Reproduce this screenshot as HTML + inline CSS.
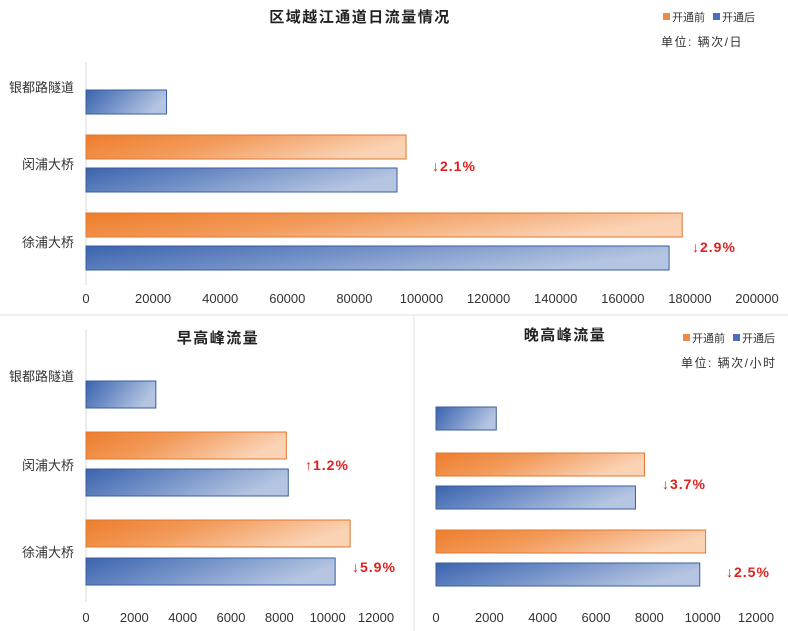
<!DOCTYPE html>
<html><head><meta charset="utf-8">
<style>
body{margin:0;background:#fff;}
svg{display:block;font-family:"Liberation Sans","Noto Sans CJK SC",sans-serif;}
</style></head>
<body>
<svg id="c" width="788" height="631" viewBox="0 0 788 631" xmlns="http://www.w3.org/2000/svg">
<defs>
<linearGradient id="go" x1="0" y1="0" x2="1" y2="0.3"><stop offset="0" stop-color="#ee7d2b"/><stop offset="0.45" stop-color="#f29a5a"/><stop offset="1" stop-color="#fad2b4"/></linearGradient>
<linearGradient id="gb" x1="0" y1="0" x2="1" y2="0.3"><stop offset="0" stop-color="#3b63ad"/><stop offset="0.45" stop-color="#6f8ec6"/><stop offset="1" stop-color="#b5c5e1"/></linearGradient>
</defs>
<line x1="0" y1="315" x2="788" y2="315" stroke="#e2e2e2"/>
<line x1="414" y1="315" x2="414" y2="631" stroke="#e2e2e2"/>
</svg>
<script>
const categories=["银都路隧道","闵浦大桥","徐浦大桥"];
const dailyBefore=[null,95400,177700];
const dailyAfter=[24000,92700,173800];
const dailyTicks=[0,20000,40000,60000,80000,100000,120000,140000,160000,180000,200000];
const dailyChange=[null,"↓2.1%","↓2.9%"];
const amBefore=[null,8290,10930];
const amAfter=[2890,8370,10310];
const amTicks=[0,2000,4000,6000,8000,10000,12000];
const amChange=[null,"↑1.2%","↓5.9%"];
const pmBefore=[null,7820,10110];
const pmAfter=[2260,7480,9890];
const pmTicks=[0,2000,4000,6000,8000,10000,12000];
const pmChange=[null,"↓3.7%","↓2.5%"];

const svg=document.getElementById('c');
const NS="http://www.w3.org/2000/svg";
function mk(tag,attrs,text){const e=document.createElementNS(NS,tag);for(const k in attrs)e.setAttribute(k,attrs[k]);if(text!==undefined)e.textContent=text;svg.appendChild(e);return e;}

function chart(cfg){
  const x=v=>cfg.x0+(v/cfg.max)*(cfg.x1-cfg.x0);
  if(cfg.axisLine){const l=mk('line',{x1:cfg.x0,y1:cfg.axTop,x2:cfg.x0,y2:cfg.axBot,stroke:'#d9d9d9'});
    
    }
  const t=mk('text',{x:cfg.titleX,y:cfg.titleY,'text-anchor':'middle','font-size':15,'font-weight':'bold',fill:'#222','letter-spacing':1.5},cfg.title);
  
  
  cfg.ticks.forEach(v=>{const e=mk('text',{x:x(v),y:cfg.tickY,'text-anchor':'middle','font-size':13,fill:'#333'},String(v));
    
    });
  categories.forEach((c,i)=>{
    if(cfg.showCats){const e=mk('text',{x:cfg.catX,y:cfg.catY[i],'text-anchor':'end','font-size':13,fill:'#333'},c);
      
      }
    if(cfg.before[i]!=null){const r=mk('rect',{x:cfg.x0,y:cfg.oy[i],width:x(cfg.before[i])-cfg.x0,height:cfg.h,fill:'url(#go)',stroke:'#e2772f','stroke-width':1});
      
      }
    if(cfg.after[i]!=null){const r=mk('rect',{x:cfg.x0,y:cfg.by[i],width:x(cfg.after[i])-cfg.x0,height:cfg.h,fill:'url(#gb)',stroke:'#3a5d9e','stroke-width':1});
      
      }
    if(cfg.change[i]){const e=mk('text',{x:cfg.chX[i],y:cfg.chY[i],'font-size':14,'font-weight':'bold',fill:'#e0201e','letter-spacing':1},cfg.change[i]);
      
      }
  });
  if(cfg.legendX){
    const lx=cfg.legendX,ly=cfg.legendY;
    let r=mk('rect',{x:lx,y:ly-8,width:7,height:7,fill:'#ee8a45'});
    
    
    let e=mk('text',{x:lx+9,y:ly,'font-size':11,fill:'#333'},'开通前');
    
    
    r=mk('rect',{x:lx+50,y:ly-8,width:7,height:7,fill:'#4a6fb8'});
    
    
    e=mk('text',{x:lx+59,y:ly,'font-size':11,fill:'#333'},'开通后');
    
    
    e=mk('text',{x:lx-2,y:ly+25,'font-size':12,fill:'#333','letter-spacing':1.5},cfg.unit);
    
    
  }
}
chart({id:'daily',title:'区域越江通道日流量情况',titleX:360,titleY:22,x0:86,x1:757,max:200000,ticks:dailyTicks,tickY:303,
  before:dailyBefore,after:dailyAfter,change:dailyChange,h:24,oy:[0,135,213],by:[90,168,246],
  showCats:true,catX:74,catY:[92,169,247],chX:[0,432,692],chY:[0,171,252],axisLine:true,axTop:62,axBot:285,
  legendX:663,legendY:21,unit:'单位:  辆次/日'});
chart({id:'morning',title:'早高峰流量',titleX:218,titleY:343,x0:86,x1:376,max:12000,ticks:amTicks,tickY:622,
  before:amBefore,after:amAfter,change:amChange,h:27,oy:[0,432,520],by:[381,469,558],
  showCats:true,catX:74,catY:[381,470,557],chX:[0,305,352],chY:[0,470,572],axisLine:true,axTop:330,axBot:602});
chart({id:'evening',title:'晚高峰流量',titleX:565,titleY:340,x0:436,x1:756,max:12000,ticks:pmTicks,tickY:622,
  before:pmBefore,after:pmAfter,change:pmChange,h:23,oy:[0,453,530],by:[407,486,563],
  showCats:false,chX:[0,662,726],chY:[0,489,577],axisLine:false,
  legendX:683,legendY:342,unit:'单位:  辆次/小时'});
</script>
</body></html>
